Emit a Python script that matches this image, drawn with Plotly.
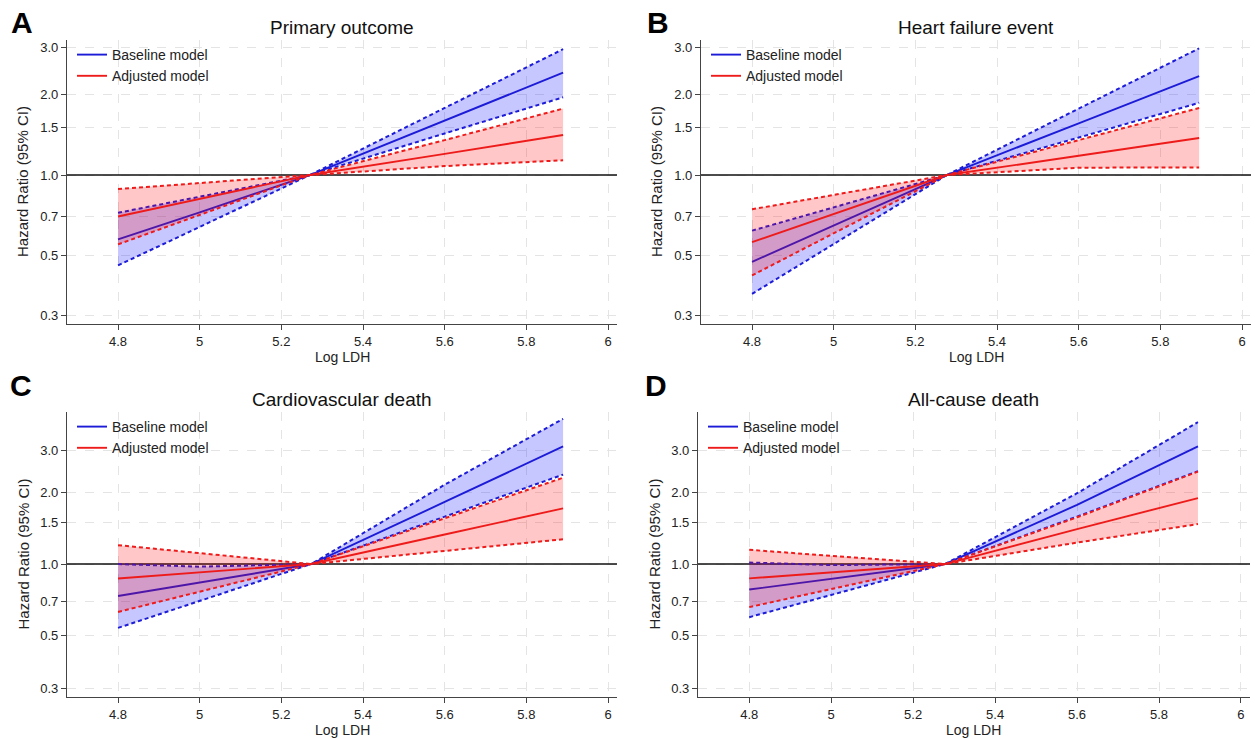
import plotly.graph_objects as go

# ---------------- data: hazard ratios vs log LDH ----------------
# Primary outcome
A_LDH = [4.80, 5.00, 5.27, 5.60, 5.89]
A_BASE_HR = [0.575, 0.725, 1.0, 1.60, 2.41]
A_BASE_LO = [0.46, 0.64, 1.0, 1.43, 1.95]
A_BASE_HI = [0.723, 0.83, 1.0, 1.78, 2.95]
A_ADJ_HR = [0.70, 0.816, 1.0, 1.20, 1.41]
A_ADJ_LO = [0.551, 0.71, 1.0, 1.08, 1.135]
A_ADJ_HI = [0.887, 0.933, 1.0, 1.35, 1.77]

# Heart failure event
B_LDH = [4.80, 5.00, 5.277, 5.60, 5.895]
B_BASE_HR = [0.474, 0.648, 1.0, 1.56, 2.34]
B_BASE_LO = [0.36, 0.552, 1.0, 1.38, 1.86]
B_BASE_HI = [0.62, 0.758, 1.0, 1.77, 2.97]
B_ADJ_HR = [0.562, 0.715, 1.0, 1.18, 1.375]
B_ADJ_LO = [0.422, 0.606, 1.0, 1.065, 1.068]
B_ADJ_HI = [0.745, 0.843, 1.0, 1.35, 1.78]

# Cardiovascular death
C_LDH = [4.80, 5.00, 5.273, 5.60, 5.89]
C_BASE_HR = [0.735, 0.837, 1.0, 1.82, 3.11]
C_BASE_LO = [0.54, 0.70, 1.0, 1.58, 2.37]
C_BASE_HI = [1.0, 0.975, 1.0, 2.15, 4.06]
C_ADJ_HR = [0.87, 0.923, 1.0, 1.33, 1.71]
C_ADJ_LO = [0.63, 0.766, 1.0, 1.135, 1.27]
C_ADJ_HI = [1.20, 1.11, 1.0, 1.555, 2.30]

# All-cause death
D_LDH = [4.80, 5.00, 5.278, 5.60, 5.895]
D_BASE_HR = [0.782, 0.867, 1.0, 1.77, 3.11]
D_BASE_LO = [0.599, 0.742, 1.0, 1.58, 2.45]
D_BASE_HI = [1.015, 0.99, 1.0, 1.98, 3.93]
D_ADJ_HR = [0.871, 0.923, 1.0, 1.40, 1.89]
D_ADJ_LO = [0.66, 0.785, 1.0, 1.23, 1.47]
D_ADJ_HI = [1.147, 1.083, 1.0, 1.57, 2.44]

TITLES = ["Primary outcome", "Heart failure event", "Cardiovascular death", "All-cause death"]
LETTERS = ["A", "B", "C", "D"]
SERIES_NAMES = ["Baseline model", "Adjusted model"]

X_TICKS = [4.8, 5.0, 5.2, 5.4, 5.6, 5.8, 6.0]
X_TICK_TEXT = ["4.8", "5", "5.2", "5.4", "5.6", "5.8", "6"]
Y_TICKS = [0.3, 0.5, 0.7, 1.0, 1.5, 2.0, 3.0]
Y_TICK_TEXT = ["0.3", "0.5", "0.7", "1.0", "1.5", "2.0", "3.0"]
X_RANGE = [4.675, 6.022]
Y_RANGE_TOP = [-0.556, 0.504]      # log10 units
Y_RANGE_BOTTOM = [-0.557, 0.637]

PANELS = [
    (A_LDH, (A_BASE_HR, A_BASE_LO, A_BASE_HI), (A_ADJ_HR, A_ADJ_LO, A_ADJ_HI)),
    (B_LDH, (B_BASE_HR, B_BASE_LO, B_BASE_HI), (B_ADJ_HR, B_ADJ_LO, B_ADJ_HI)),
    (C_LDH, (C_BASE_HR, C_BASE_LO, C_BASE_HI), (C_ADJ_HR, C_ADJ_LO, C_ADJ_HI)),
    (D_LDH, (D_BASE_HR, D_BASE_LO, D_BASE_HI), (D_ADJ_HR, D_ADJ_LO, D_ADJ_HI)),
]

# ---------------- layout geometry (pixels) ----------------
W, H = 1255, 739
# left, right, top, bottom of each plotting area
FRAMES = [(67, 617, 40, 324), (701, 1251, 40, 324),
          (67, 617, 412, 697), (698, 1250, 412, 697)]
# centre of each panel letter
LETTER_POS = [(22, 22), (658, 22), (21, 385), (656, 385)]

FONT = "Liberation Sans, Arial, sans-serif"
LINE_COL = ["#1c1cd8", "#ee1b1b"]
FILL_COL = ["rgba(0,0,255,0.22)", "rgba(255,0,0,0.22)"]
AXIS_COL = "#444444"
GRID_COL = "#e4e4e4"

fig = go.Figure()
layout = dict(
    width=W, height=H, margin=dict(l=0, r=0, t=0, b=0),
    paper_bgcolor="white", plot_bgcolor="white",
    font=dict(family=FONT, size=13, color="#222222"),
    showlegend=True, annotations=[],
)

for i, (ldh, base, adj) in enumerate(PANELS):
    n = "" if i == 0 else str(i + 1)
    xa, ya, lg = "x" + n, "y" + n, "legend" + n
    left, right, top, bottom = FRAMES[i]

    layout["xaxis" + n] = dict(
        domain=[left / W, right / W], range=X_RANGE, anchor=ya,
        tickvals=X_TICKS, ticktext=X_TICK_TEXT, ticks="outside", ticklen=5,
        tickcolor=AXIS_COL, showline=True, linecolor=AXIS_COL, linewidth=1.3,
        showgrid=True, gridcolor=GRID_COL, griddash="dash", gridwidth=1,
        zeroline=False, tickfont=dict(size=13, color="#222222"),
    )
    layout["yaxis" + n] = dict(
        domain=[1 - bottom / H, 1 - top / H], type="log", anchor=xa,
        range=Y_RANGE_TOP if i < 2 else Y_RANGE_BOTTOM,
        tickvals=Y_TICKS, ticktext=Y_TICK_TEXT, ticks="outside", ticklen=5,
        tickcolor=AXIS_COL, showline=True, linecolor=AXIS_COL, linewidth=1.3,
        showgrid=True, gridcolor=GRID_COL, griddash="dash", gridwidth=1,
        zeroline=False, tickfont=dict(size=13, color="#222222"),
    )
    layout[lg] = dict(
        x=(left + 5) / W, y=1 - (top - 1) / H, xanchor="left", yanchor="top",
        bgcolor="rgba(0,0,0,0)", font=dict(size=14, color="#222222"),
        itemwidth=30, tracegroupgap=0,
    )

    # reference line at HR = 1
    fig.add_trace(go.Scatter(
        x=X_RANGE, y=[1.0, 1.0], mode="lines", xaxis=xa, yaxis=ya,
        line=dict(color="#111111", width=1.6), showlegend=False, hoverinfo="skip",
    ))

    for k, (hr, lo, hi) in enumerate((base, adj)):
        # confidence band
        fig.add_trace(go.Scatter(
            x=list(ldh) + list(ldh)[::-1], y=list(hi) + list(lo)[::-1],
            mode="lines", fill="toself", fillcolor=FILL_COL[k],
            line=dict(width=0), xaxis=xa, yaxis=ya, showlegend=False,
            hoverinfo="skip",
        ))
        # confidence limits
        for bound in (lo, hi):
            fig.add_trace(go.Scatter(
                x=ldh, y=bound, mode="lines", xaxis=xa, yaxis=ya,
                line=dict(color=LINE_COL[k], width=2.0, dash="4px,3px"),
                showlegend=False, hoverinfo="skip",
            ))
        # point estimate
        fig.add_trace(go.Scatter(
            x=ldh, y=hr, mode="lines", name=SERIES_NAMES[k], xaxis=xa, yaxis=ya,
            line=dict(color=LINE_COL[k], width=1.9), legend=lg, showlegend=True,
        ))

    cx = (left + right) / 2
    cy = (top + bottom) / 2
    lx, ly = LETTER_POS[i]
    ann = layout["annotations"]
    ann.append(dict(text=TITLES[i], x=cx / W, y=1 - (top - 13) / H, xref="paper",
                    yref="paper", xanchor="center", yanchor="middle",
                    showarrow=False, font=dict(size=19, color="#111111")))
    ann.append(dict(text="<b>%s</b>" % LETTERS[i], x=lx / W, y=1 - ly / H,
                    xref="paper", yref="paper", xanchor="center",
                    yanchor="middle", showarrow=False,
                    font=dict(size=30, color="#000000")))
    ann.append(dict(text="Log LDH", x=cx / W, y=1 - (bottom + 33) / H,
                    xref="paper", yref="paper", xanchor="center",
                    yanchor="middle", showarrow=False,
                    font=dict(size=14, color="#222222")))
    ann.append(dict(text="Hazard Ratio (95% CI)", x=(left - 44) / W,
                    y=1 - cy / H, xref="paper", yref="paper", textangle=-90,
                    xanchor="center", yanchor="middle", showarrow=False,
                    font=dict(size=15, color="#222222")))

fig.update_layout(**layout)
fig.write_html("out.html")
